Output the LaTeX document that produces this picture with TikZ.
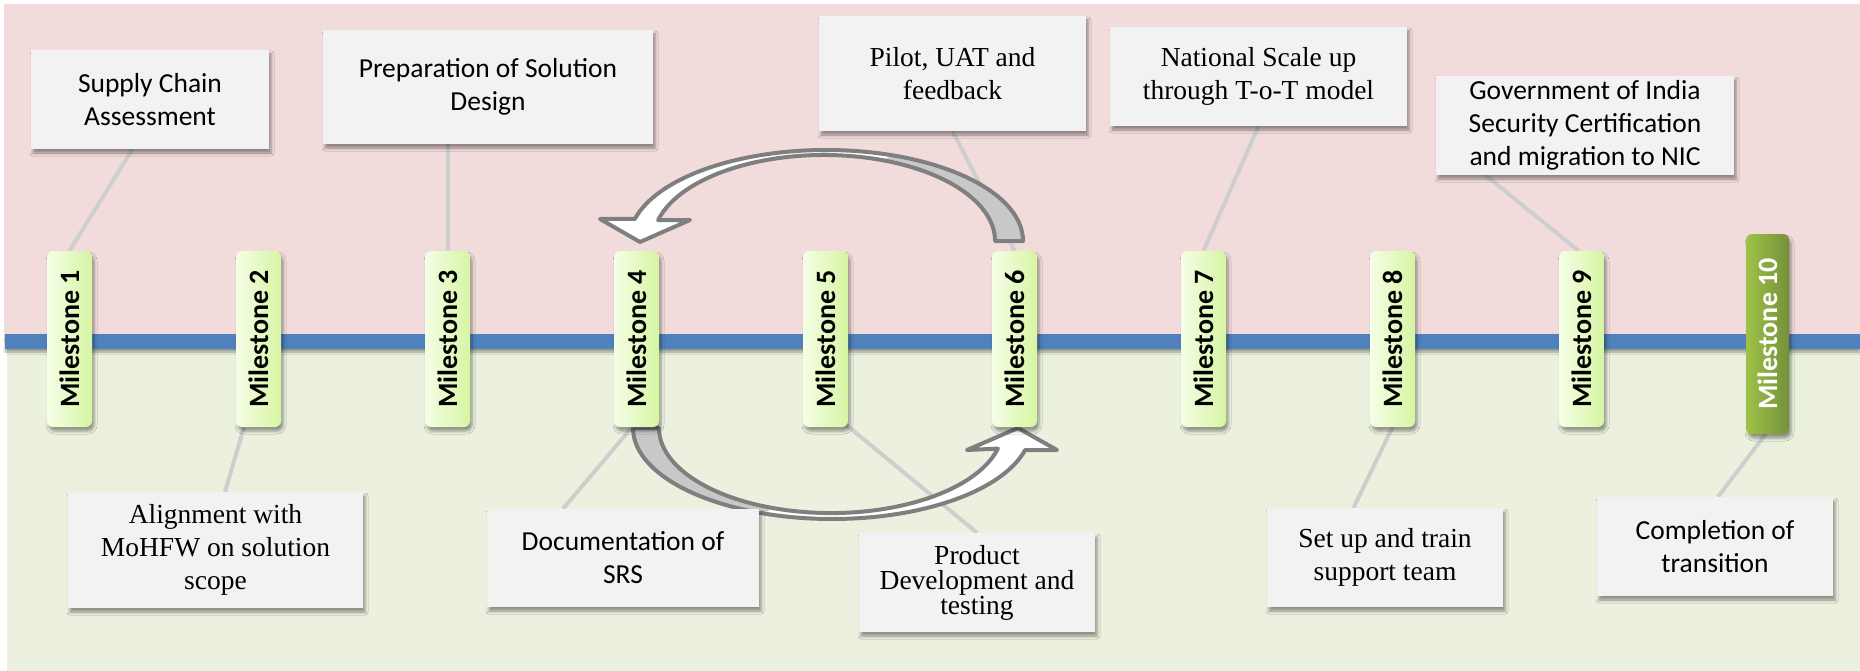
\documentclass[tikz,border=0pt]{standalone}
\usepackage{fontspec}
\setmainfont{Liberation Serif}
\newfontfamily\calib{Carlito}
\usetikzlibrary{calc,shadows.blur}
\definecolor{pinkbg}{RGB}{242,220,219}
\definecolor{greenbg}{RGB}{235,241,222}
\definecolor{blueline}{RGB}{79,129,189}
\definecolor{boxgray}{RGB}{242,242,242}
\definecolor{conngray}{RGB}{206,206,206}
\definecolor{arrline}{RGB}{127,127,127}
\definecolor{arrfill}{RGB}{200,200,200}
\definecolor{msL}{RGB}{245,254,230}
\definecolor{msR}{RGB}{214,245,162}
\definecolor{mtA}{RGB}{158,194,72}
\definecolor{mtB}{RGB}{116,145,58}
\pgfdeclarelayer{background}
\pgfsetlayers{background,main}
\tikzset{
  shad/.style={blur shadow={shadow xshift=2pt,shadow yshift=-4pt,shadow blur radius=3pt,shadow opacity=40}},
  tbox/.style={shad, fill=boxgray, inner sep=0pt, align=center},
  cfont/.style={font=\calib\fontsize{27.5}{33}\selectfont},
  sfont/.style={font=\fontsize{27.5}{33}\selectfont},
  ms/.style={shad, rounded corners=6pt, minimum width=45pt, minimum height=176pt, inner sep=0pt,
    left color=msL, right color=msR, text=black, font=\calib\bfseries\fontsize{28}{28}\selectfont},
  msten/.style={ms, minimum width=43pt, minimum height=200pt, left color=mtA, right color=mtB, text=white},
  conn/.style={draw=conngray, line width=4pt},
  arrshape/.style={draw=arrline, line width=4pt, line join=round},
}
\begin{document}
\begin{tikzpicture}[x=1pt,y=-1pt]
\useasboundingbox (0,0) rectangle (1860,671);

% milestones
\node[ms] (m1) at (69.5,339) {\rotatebox{90}{Milestone 1}};
\node[ms] (m2) at (258.5,339) {\rotatebox{90}{Milestone 2}};
\node[ms] (m3) at (447.5,339) {\rotatebox{90}{Milestone 3}};
\node[ms] (m4) at (636.5,339) {\rotatebox{90}{Milestone 4}};
\node[ms] (m5) at (825.5,339) {\rotatebox{90}{Milestone 5}};
\node[ms] (m6) at (1014.5,339) {\rotatebox{90}{Milestone 6}};
\node[ms] (m7) at (1203.5,339) {\rotatebox{90}{Milestone 7}};
\node[ms] (m8) at (1392.5,339) {\rotatebox{90}{Milestone 8}};
\node[ms] (m9) at (1581.5,339) {\rotatebox{90}{Milestone 9}};
\node[msten] (m10) at (1767.5,334) {\rotatebox{90}{Milestone 10}};

% text boxes
\node[tbox, cfont, minimum width=238pt, minimum height=99pt] (b1) at (150,99.5) {Supply Chain\\Assessment};
\node[tbox, sfont, minimum width=295pt, minimum height=116pt] (b2) at (215.5,550) {Alignment with\\MoHFW on solution\\scope};
\node[tbox, cfont, minimum width=330pt, minimum height=114pt] (b3) at (488,87) {Preparation of Solution\\Design};
\node[tbox, cfont, minimum width=272pt, minimum height=98pt] (b4) at (623,558) {Documentation of\\SRS};
\node[tbox, font=\fontsize{27.5}{25}\selectfont, minimum width=236pt, minimum height=99pt] (b5) at (977,582.5) {Product\\Development and\\testing};
\node[tbox, sfont, minimum width=267pt, minimum height=115pt] (b6) at (952.5,73.5) {Pilot, UAT and\\feedback};
\node[tbox, sfont, minimum width=297pt, minimum height=99pt] (b7) at (1258.5,76.5) {National Scale up\\through T-o-T model};
\node[tbox, sfont, minimum width=236pt, minimum height=99pt] (b8) at (1385,557.5) {Set up and train\\support team};
\node[tbox, cfont, minimum width=298pt, minimum height=99pt] (b9) at (1585,125.5) {Government of India\\Security Certification\\and migration to NIC};
\node[tbox, cfont, minimum width=236pt, minimum height=99pt] (b10) at (1715,546.5) {Completion of\\transition};

\begin{pgfonlayer}{background}
  % backgrounds
  \fill[pinkbg] (4,4) rectangle (1860,342);
  \fill[greenbg] (7,342) rectangle (1860,671);
  \fill[blueline, blur shadow={shadow xshift=0pt,shadow yshift=-3pt,shadow blur radius=2pt,shadow opacity=35}] (5,334) rectangle (1860,349);
  % connectors
  \draw[conn] ($(b1.south)+(-17.5,0)$) -- (m1.north);
  \draw[conn] ($(m2.south)+(-14.5,0)$) -- ($(b2.north)+(9.5,0)$);
  \draw[conn] (m3.north |- b3.south) -- (m3.north);
  \draw[conn] ($(m4.south)+(-4.5,0)$) -- ($(b4.north)+(-60,0)$);
  \draw[conn] ($(m5.south east)+(-4,-4)$) -- (b5.north);
  \draw[conn] (b6.south) -- (m6.north);
  \draw[conn] (b7.south) -- (m7.north);
  \draw[conn] (m8.south) -- ($(b8.north)+(-31.5,0)$);
  \draw[conn] ($(b9.south)+(-99.5,0)$) -- ($(m9.north)+(-3,0)$);
  \draw[conn] ($(m10.south)+(-2,0)$) -- ($(b10.north)+(3,0)$);
  % upper curved arrow (Milestone 6 -> Milestone 4)
  \fill[white] (1023,241) arc[start angle=0,end angle=166,x radius=197pt,y radius=91pt]
     -- (600,219) -- (640,242) -- (690,220) -- (658.1,220.2)
     arc[start angle=166,end angle=0,x radius=171pt,y radius=86pt] -- cycle;
  \fill[arrfill] (1023,241) arc[start angle=0,end angle=70,x radius=197pt,y radius=91pt]
     -- (882.5,160.2) arc[start angle=70,end angle=0,x radius=171pt,y radius=86pt] -- cycle;
  \draw[arrshape] (1023,241) arc[start angle=0,end angle=166,x radius=197pt,y radius=91pt]
     -- (600,219) -- (640,242) -- (690,220) -- (658.1,220.2)
     arc[start angle=166,end angle=0,x radius=171pt,y radius=86pt] -- cycle;
  % lower curved arrow (Milestone 4 -> Milestone 6)
  \fill[white] (633,428) arc[start angle=180,end angle=346,x radius=199pt,y radius=91pt]
     -- (1057,450) -- (1018,428) -- (967,450) -- (997.9,448.6)
     arc[start angle=346,end angle=180,x radius=172pt,y radius=85pt] -- cycle;
  \fill[arrfill] (633,428) arc[start angle=180,end angle=250,x radius=199pt,y radius=91pt]
     -- (772.2,507.9) arc[start angle=250,end angle=180,x radius=172pt,y radius=85pt] -- cycle;
  \draw[arrshape] (633,428) arc[start angle=180,end angle=346,x radius=199pt,y radius=91pt]
     -- (1057,450) -- (1018,428) -- (967,450) -- (997.9,448.6)
     arc[start angle=346,end angle=180,x radius=172pt,y radius=85pt] -- cycle;
\end{pgfonlayer}
\end{tikzpicture}
\end{document}
